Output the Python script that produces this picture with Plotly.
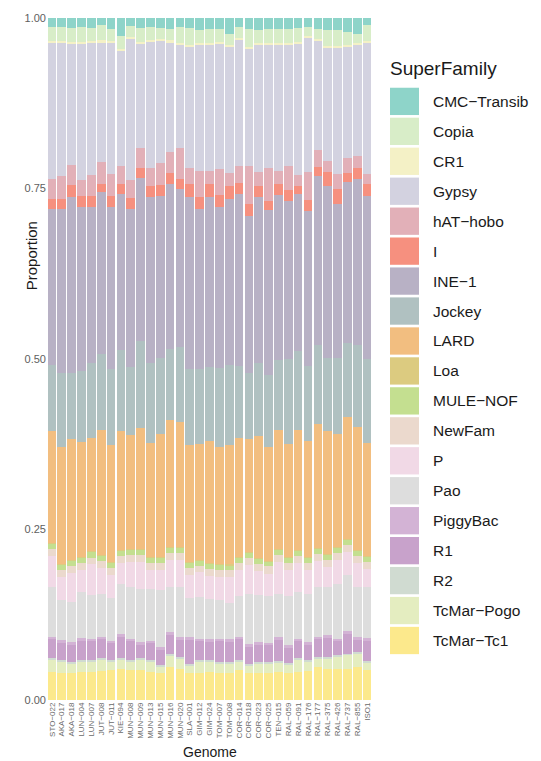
import plotly.graph_objects as go

# ---------------------------------------------------------------- data
genomes = ["STO-022", "AKA-017", "AKA-018", "LUN-004", "LUN-007", "JUT-008",
           "JUT-011", "KIE-094", "MUN-008", "MUN-009", "MUN-013", "MUN-015",
           "MUN-016", "MUN-020", "SLA-001", "GIM-012", "GIM-024", "TOM-007",
           "TOM-008", "COR-014", "COR-018", "COR-023", "COR-025", "TEN-015",
           "RAL-059", "RAL-091", "RAL-176", "RAL-177", "RAL-375", "RAL-426",
           "RAL-737", "RAL-855", "ISO1"]

# legend order (top of stack first)
superfamilies = ["CMC-Transib", "Copia", "CR1", "Gypsy", "hAT-hobo", "I", "INE-1",
                 "Jockey", "LARD", "Loa", "MULE-NOF", "NewFam", "P", "Pao",
                 "PiggyBac", "R1", "R2", "TcMar-Pogo", "TcMar-Tc1"]

cmc_transib = [0.013, 0.013, 0.014, 0.013, 0.014, 0.010, 0.016, 0.026, 0.011, 0.014, 0.013,
               0.014, 0.016, 0.013, 0.015, 0.017, 0.016, 0.016, 0.024, 0.013, 0.016, 0.017,
               0.016, 0.016, 0.016, 0.015, 0.013, 0.016, 0.017, 0.017, 0.020, 0.024, 0.010]
copia = [0.021, 0.020, 0.021, 0.022, 0.020, 0.023, 0.018, 0.020, 0.017, 0.021, 0.019,
         0.017, 0.017, 0.023, 0.025, 0.019, 0.021, 0.019, 0.015, 0.016, 0.027, 0.019,
         0.020, 0.020, 0.020, 0.020, 0.014, 0.015, 0.024, 0.024, 0.019, 0.013, 0.024]
cr1 = [0.003, 0.003, 0.003, 0.003, 0.003, 0.003, 0.003, 0.003, 0.003, 0.003, 0.003,
       0.003, 0.003, 0.003, 0.003, 0.003, 0.003, 0.003, 0.003, 0.003, 0.003, 0.003,
       0.003, 0.003, 0.003, 0.003, 0.003, 0.003, 0.003, 0.003, 0.003, 0.003, 0.003]
gypsy = [0.200, 0.195, 0.177, 0.199, 0.193, 0.175, 0.192, 0.169, 0.206, 0.152, 0.185,
         0.179, 0.160, 0.151, 0.177, 0.186, 0.185, 0.184, 0.186, 0.185, 0.171, 0.186,
         0.181, 0.186, 0.178, 0.192, 0.195, 0.159, 0.166, 0.185, 0.163, 0.163, 0.192]
hat_hobo = [0.028, 0.035, 0.030, 0.024, 0.031, 0.032, 0.032, 0.026, 0.027, 0.030, 0.026,
            0.032, 0.032, 0.046, 0.024, 0.038, 0.019, 0.038, 0.019, 0.025, 0.056, 0.021,
            0.048, 0.018, 0.035, 0.016, 0.042, 0.026, 0.016, 0.021, 0.022, 0.017, 0.015]
i_family = [0.015, 0.014, 0.017, 0.016, 0.016, 0.012, 0.016, 0.014, 0.016, 0.015, 0.016,
            0.016, 0.015, 0.014, 0.018, 0.017, 0.018, 0.017, 0.018, 0.016, 0.017, 0.016,
            0.014, 0.016, 0.016, 0.012, 0.015, 0.012, 0.020, 0.022, 0.013, 0.016, 0.017]
ine_1 = [0.230, 0.240, 0.258, 0.240, 0.228, 0.238, 0.238, 0.230, 0.232, 0.239, 0.243,
         0.237, 0.243, 0.232, 0.253, 0.235, 0.250, 0.236, 0.245, 0.252, 0.230, 0.243,
         0.241, 0.243, 0.232, 0.231, 0.228, 0.249, 0.252, 0.226, 0.237, 0.244, 0.239]
jockey = [0.096, 0.109, 0.097, 0.105, 0.110, 0.112, 0.111, 0.119, 0.100, 0.127, 0.117,
          0.112, 0.104, 0.111, 0.111, 0.109, 0.108, 0.116, 0.116, 0.106, 0.097, 0.107,
          0.106, 0.102, 0.124, 0.115, 0.110, 0.115, 0.107, 0.112, 0.108, 0.120, 0.123]
lard = [0.165, 0.172, 0.178, 0.168, 0.166, 0.183, 0.172, 0.174, 0.166, 0.177, 0.168,
        0.180, 0.186, 0.183, 0.172, 0.170, 0.179, 0.171, 0.176, 0.174, 0.166, 0.179,
        0.167, 0.174, 0.165, 0.177, 0.170, 0.182, 0.181, 0.165, 0.179, 0.180, 0.166]
loa = [0.001, 0.001, 0.001, 0.001, 0.001, 0.001, 0.001, 0.001, 0.001, 0.001, 0.001,
       0.001, 0.001, 0.001, 0.001, 0.001, 0.001, 0.001, 0.001, 0.001, 0.001, 0.001,
       0.001, 0.001, 0.001, 0.001, 0.001, 0.001, 0.001, 0.001, 0.001, 0.001, 0.001]
mule_nof = [0.008, 0.008, 0.007, 0.008, 0.009, 0.008, 0.007, 0.008, 0.008, 0.008, 0.007,
            0.008, 0.008, 0.008, 0.007, 0.008, 0.008, 0.008, 0.007, 0.008, 0.008, 0.008,
            0.007, 0.008, 0.008, 0.008, 0.008, 0.008, 0.007, 0.008, 0.008, 0.008, 0.008]
newfam = [0.010, 0.010, 0.011, 0.010, 0.009, 0.010, 0.011, 0.010, 0.010, 0.010, 0.011,
          0.010, 0.010, 0.010, 0.011, 0.010, 0.010, 0.010, 0.011, 0.010, 0.010, 0.010,
          0.011, 0.010, 0.010, 0.010, 0.010, 0.010, 0.011, 0.010, 0.010, 0.010, 0.010]
p_family = [0.045, 0.034, 0.043, 0.033, 0.045, 0.039, 0.033, 0.031, 0.038, 0.040, 0.028,
            0.030, 0.040, 0.040, 0.033, 0.036, 0.034, 0.035, 0.038, 0.038, 0.043, 0.035,
            0.032, 0.048, 0.039, 0.043, 0.035, 0.039, 0.030, 0.036, 0.033, 0.036, 0.027]
pao = [0.073, 0.058, 0.058, 0.067, 0.064, 0.062, 0.063, 0.074, 0.075, 0.078, 0.075,
       0.083, 0.066, 0.073, 0.058, 0.061, 0.059, 0.056, 0.053, 0.060, 0.073, 0.069,
       0.069, 0.063, 0.072, 0.068, 0.070, 0.072, 0.070, 0.080, 0.083, 0.073, 0.074]
piggybac = [0.004, 0.005, 0.004, 0.004, 0.003, 0.004, 0.004, 0.005, 0.004, 0.004, 0.004,
            0.004, 0.004, 0.004, 0.004, 0.004, 0.004, 0.004, 0.004, 0.004, 0.004, 0.004,
            0.004, 0.004, 0.004, 0.004, 0.004, 0.004, 0.004, 0.004, 0.004, 0.004, 0.004]
r1 = [0.028, 0.025, 0.025, 0.029, 0.029, 0.028, 0.024, 0.031, 0.028, 0.020, 0.025,
      0.023, 0.028, 0.025, 0.035, 0.028, 0.027, 0.030, 0.029, 0.031, 0.025, 0.025,
      0.024, 0.031, 0.022, 0.025, 0.023, 0.026, 0.028, 0.020, 0.029, 0.018, 0.030]
r2 = [0.002, 0.002, 0.002, 0.002, 0.002, 0.002, 0.002, 0.002, 0.002, 0.002, 0.002,
      0.002, 0.002, 0.002, 0.002, 0.002, 0.002, 0.002, 0.002, 0.002, 0.002, 0.002,
      0.002, 0.002, 0.002, 0.002, 0.002, 0.002, 0.002, 0.002, 0.002, 0.002, 0.002]
tcmar_pogo = [0.018, 0.016, 0.014, 0.015, 0.015, 0.017, 0.013, 0.014, 0.012, 0.015, 0.015,
              0.010, 0.017, 0.016, 0.012, 0.017, 0.015, 0.014, 0.015, 0.012, 0.012, 0.015,
              0.015, 0.014, 0.013, 0.018, 0.013, 0.012, 0.015, 0.019, 0.020, 0.020, 0.011]
tcmar_tc1 = [0.041, 0.040, 0.040, 0.041, 0.041, 0.042, 0.044, 0.045, 0.044, 0.044, 0.041,
             0.039, 0.049, 0.045, 0.039, 0.039, 0.041, 0.040, 0.039, 0.044, 0.039, 0.039,
             0.039, 0.041, 0.039, 0.041, 0.043, 0.049, 0.046, 0.045, 0.046, 0.048, 0.044]

values = [cmc_transib, copia, cr1, gypsy, hat_hobo, i_family, ine_1, jockey, lard, loa,
          mule_nof, newfam, p_family, pao, piggybac, r1, r2, tcmar_pogo, tcmar_tc1]

colors = ["#8ED4C9", "#D8EDC8", "#F4F1C6", "#D3D2E0", "#E2B0B8", "#F6907F", "#B8B1C5",
          "#B0C1C1", "#F2BE80", "#DCCB80", "#C4DF90", "#EBD9CD", "#F1D9E6", "#DDDDDD",
          "#D3B3D5", "#C8A2CB", "#D0DBD1", "#E4EDC0", "#FCE98C"]

y_ticks = [0, 0.25, 0.5, 0.75, 1.0]
y_tick_text = ["0.00", "0.25", "0.50", "0.75", "1.00"]

# ---------------------------------------------------------------- layout helpers
W, H = 541, 761
ML, MR, MT, MB = 47, 169, 13, 61
FONT = "Liberation Sans, Arial, sans-serif"


def nice(label):
    return label.replace("-", "\u2212")


def fx(px):
    return (px - ML) / (W - ML - MR)


def fy(py):
    return (H - MB - py) / (H - MT - MB)


x_labels = [nice(g) for g in genomes]

fig = go.Figure()

# stack from the bottom (last legend entry) upward
for name, vals, col in reversed(list(zip(superfamilies, values, colors))):
    fig.add_trace(go.Bar(
        x=x_labels, y=vals, name=name,
        marker=dict(color=col, line=dict(width=0)),
        showlegend=False,
    ))

fig.update_layout(
    width=W, height=H,
    margin=dict(l=ML, r=MR, t=MT, b=MB, pad=0),
    barmode="stack", barnorm="fraction", bargap=0.12,
    plot_bgcolor="white", paper_bgcolor="white",
    font=dict(family=FONT, color="#222222"),
)
fig.update_xaxes(
    range=[-0.5, len(genomes) - 0.5], tickangle=-90, showgrid=False, zeroline=False,
    tickmode="array", tickvals=x_labels, ticktext=x_labels,
    ticks="", tickfont=dict(size=8, color="#6a6a6a"), showline=False,
)
fig.update_yaxes(
    range=[0, 1], tickvals=y_ticks, ticktext=y_tick_text, showgrid=False,
    zeroline=False, ticks="", tickfont=dict(size=11, color="#606060"), showline=False,
)

# axis titles
fig.add_annotation(text="Genome", x=fx(210), y=fy(752), xref="paper", yref="paper",
                   showarrow=False, font=dict(size=14, color="#1a1a1a"),
                   xanchor="center", yanchor="middle")
fig.add_annotation(text="Proportion", x=fx(31), y=fy(253), xref="paper", yref="paper",
                   showarrow=False, textangle=-90, font=dict(size=15, color="#1a1a1a"),
                   xanchor="center", yanchor="middle")

# legend drawn as keys and labels beside the panel
fig.add_annotation(text="SuperFamily", x=fx(388), y=fy(64), xref="paper", yref="paper",
                   showarrow=False, font=dict(size=19, color="#1a1a1a"),
                   xanchor="left", yanchor="middle")
key_top, key_pitch, key_h = 97.0, 30.17, 27.5
for k, (name, col) in enumerate(zip(superfamilies, colors)):
    cy = key_top + key_pitch * k
    fig.add_shape(type="rect", xref="paper", yref="paper",
                  x0=fx(390), x1=fx(419), y0=fy(cy + key_h / 2), y1=fy(cy - key_h / 2),
                  fillcolor=col, line=dict(width=0))
    fig.add_annotation(text=nice(name), x=fx(431), y=fy(cy), xref="paper", yref="paper",
                       showarrow=False, font=dict(size=15.5, color="#1a1a1a"),
                       xanchor="left", yanchor="middle")

fig.write_html("out.html")
